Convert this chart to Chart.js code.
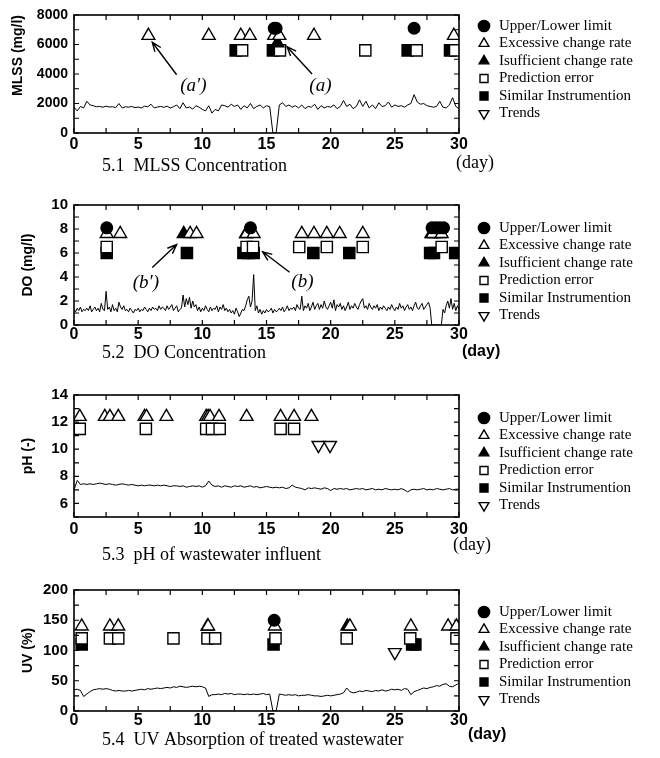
<!DOCTYPE html>
<html><head><meta charset="utf-8">
<script src="https://cdn.jsdelivr.net/npm/chart.js@4.4.1/dist/chart.umd.min.js"></script>
<style>
html,body{margin:0;padding:0;background:#fff;}
body{width:660px;height:758px;position:relative;overflow:hidden;}
.p{position:absolute;left:0;width:660px;}
canvas{display:block;}
</style></head>
<body>
<div class="p" style="top:0px"><canvas id="c1" width="660" height="190"></canvas></div>
<div class="p" style="top:190px"><canvas id="c2" width="660" height="190"></canvas></div>
<div class="p" style="top:380px"><canvas id="c3" width="660" height="190"></canvas></div>
<div class="p" style="top:570px"><canvas id="c4" width="660" height="188"></canvas></div>
<script>
// ---------------- DATA ----------------
const categoryNames = ["Upper/Lower limit","Excessive change rate","Isufficient change rate","Prediction error","Similar Instrumention","Trends"];
const xTickStep = 2.5, xLabelEvery = 5;

// time series (MLSS every 0.25 day)
const mlssStep = 0.25;
const mlssSeries = [
 1750,1500,1800,1700, 2150,1900,1850,1780, 1800,1750,1820,1760, 1780,1720,2000,1700,
 1780,1750,1800,1720, 1760,1700,1820,1780, 1950,1700,1760,1800, 1740,1820,1700,1780,
 1900,1650,2050,1700, 1760,1620,1850,1750, 1600,1500,1850,1350, 1600,1500,1900,1850,
 1750,1950,1800,1900, 1600,1850,1700,2000, 1650,1800,1900,1700, 1850,1780,0,0,
 1900,2050,1800,1900, 1750,1850,1700,1900, 1650,1800,1750,1950, 1600,1850,1700,1800,
 1750,1900,1650,1800, 2200,1800,1950,1650, 1800,2250,1800,2150, 1700,1900,1650,2050,
 1800,1850,2100,1750, 1900,1800,1850,1750, 1900,2000,2600,2100, 1950,2000,1850,1800,
 1750,1800,2150,1750, 1700,1900,2400,1800, 1650
];
// DO every 0.125 day
const doStep = 0.125;
const doSeries = [
 1.3,1.1,1.4,1.2,1.5,1.1,1.3,1.2, 1.4,1.2,1.6,1.1,1.3,1.5,1.2,1.4,
 1.1,1.8,1.3,1.2,2.8,1.3,1.5,1.1, 1.7,1.2,1.4,1.1,1.9,1.5,1.3,1.6,
 1.2,1.3,1.1,1.4,1.2,1.0,1.3,1.2, 1.4,1.1,1.3,1.2,1.5,1.3,1.1,1.4,
 1.2,1.5,1.3,1.4,1.2,1.6,1.3,1.5, 1.4,1.2,1.6,1.3,1.5,1.7,1.2,1.4,
 1.6,1.1,1.3,1.4,2.5,1.5,2.2,1.7, 2.3,1.4,2.0,1.5,1.7,1.2,1.5,1.1,
 1.4,1.2,1.6,1.3,1.1,1.5,1.2,1.4, 1.3,1.6,1.1,1.5,1.3,1.7,1.2,1.4,
 1.1,1.3,1.0,1.2,0.9,1.4,1.1,0.7, 1.0,1.3,1.2,1.6,2.1,2.4,1.5,2.0,
 4.2,1.2,1.6,1.0,1.3,0.9,1.2,1.0, 1.3,1.1,1.2,1.4,1.0,1.3,1.1,1.2,
 1.4,1.2,1.5,1.1,1.3,1.6,1.2,1.4, 1.3,1.5,1.2,1.7,1.4,1.3,2.4,1.2,
 1.6,1.4,1.8,1.2,1.5,1.9,1.3,1.6, 1.8,1.3,1.7,1.4,2.0,1.5,1.3,1.6,
 1.9,1.4,2.1,1.2,1.7,1.5,1.8,1.3, 1.6,1.2,1.5,1.9,1.3,1.6,1.4,1.8,
 1.5,1.3,1.7,2.0,2.2,1.4,1.6,1.3, 1.8,1.5,1.3,1.6,1.4,1.7,1.2,1.5,
 1.3,1.6,1.4,1.2,1.5,1.3,1.7,1.4, 1.2,1.5,1.3,1.8,1.4,1.6,1.2,1.5,
 1.7,1.3,1.5,1.2,1.6,1.9,1.4,1.3, 1.6,1.8,1.3,1.5,1.7,1.9,1.4,0,
 0,0,0,0,0,0,1.3,1.0, 1.6,2.0,1.4,2.2,1.3,1.8,1.2,1.6,
 1.3
];
// pH every 0.25 day
const phStep = 0.25;
const phSeries = [
 7.0,7.7,7.4,7.45, 7.4,7.45,7.4,7.45, 7.5,7.45,7.4,7.45, 7.4,7.35,7.4,7.45,
 7.4,7.35,7.4,7.35, 7.3,7.35,7.3,7.35, 7.35,7.3,7.35,7.3, 7.35,7.3,7.25,7.3,
 7.3,7.25,7.3,7.2, 7.25,7.3,7.25,7.3, 7.2,7.3,7.65,7.35, 7.25,7.3,7.2,7.3,
 7.25,7.2,7.3,7.25, 7.3,7.2,7.25,7.3, 7.2,7.25,7.15,7.2, 7.25,7.2,7.15,7.2,
 7.15,7.2,7.1,7.15, 7.35,7.2,7.15,7.1, 7.0,7.15,7.1,7.15, 7.1,7.05,7.15,7.1,
 6.95,7.1,7.05,7.1, 7.05,7.1,7.0,7.05, 7.1,7.05,7.1,7.0, 7.05,7.1,7.0,7.05,
 7.0,7.1,7.05,7.0, 7.05,7.0,7.1,7.0, 6.85,7.0,7.05,7.0, 7.05,7.1,7.0,7.05,
 7.0,7.1,7.05,7.0, 7.05,7.1,7.0,7.05, 7.05
];
// UV every 0.25 day
const uvStep = 0.25;
const uvSeries = [
 35,36,34,24, 28,32,35,36, 37,36,37,36, 34,33,34,33,
 33,34,33,34, 35,36,35,37, 36,37,38,37, 38,39,38,40,
 39,41,40,39, 40,41,40,41, 40,38,24,27, 27,28,27,29,
 28,29,27,28, 28,27,28,27, 28,27,28,29, 27,28,0,0,
 28,27,26,27, 26,27,25,26, 26,27,26,25, 25,24,25,26,
 25,26,27,28, 30,38,32,30, 31,33,32,34, 33,32,34,33,
 35,33,34,36, 35,36,34,37, 36,27,32,34, 36,38,37,39,
 40,42,41,44, 45,41,40,43, 46
];

// event markers: days of detection per category, plotted at a fixed level per category
const mlssLimit   = [15.6, 15.75, 26.5];
const mlssExcess  = [5.8, 10.5, 13.0, 13.7, 15.6, 16.0, 18.7, 29.6];
const mlssInsuff  = [15.85];
const mlssPred    = [13.1, 16.05, 22.7, 26.7, 29.7];
const mlssSimilar = [12.6, 15.5, 26.0, 29.3];
const mlssTrend   = [];
const mlssLevels  = [7100, 6600, 6100, 5600, 5600, 5000];

const doLimit   = [2.55, 13.75, 27.9, 28.2, 28.5, 28.8];
const doExcess  = [2.55, 3.6, 9.05, 9.55, 13.45, 14.0, 17.75, 18.7, 19.7, 20.7, 22.5, 27.95, 28.65];
const doInsuff  = [8.55, 13.4, 27.85, 28.15, 28.45];
const doPred    = [2.55, 13.45, 13.95, 17.55, 19.7, 22.5, 28.65];
const doSimilar = [2.55, 8.8, 13.2, 13.6, 14.0, 18.65, 21.45, 27.75, 28.05, 29.7];
const doTrend   = [];
const doLevels  = [8.1, 7.6, 7.6, 6.5, 6.0, 5.5];

const phLimit   = [];
const phExcess  = [0.45, 2.4, 2.8, 3.45, 5.5, 5.65, 7.2, 10.3, 10.45, 10.6, 11.3, 13.45, 16.1, 17.15, 18.5];
const phInsuff  = [];
const phPred    = [0.45, 5.6, 10.3, 10.75, 11.35, 16.1, 17.15];
const phSimilar = [];
const phTrend   = [19.05, 19.95];
const phLevels  = [13.2, 12.4, 12.4, 11.5, 11.5, 10.3];

const uvLimit   = [15.6];
const uvExcess  = [0.6, 2.8, 3.45, 10.45, 15.65, 21.5, 26.25, 29.15, 29.8];
const uvInsuff  = [10.4, 21.3];
const uvPred    = [0.6, 2.8, 3.45, 7.75, 10.4, 11.0, 15.7, 21.25, 26.2, 29.8];
const uvSimilar = [0.6, 15.55, 26.35, 26.6];
const uvTrend   = [25.0];
const uvLevels  = [150, 140, 140, 120, 110, 97];

// annotations (data coordinates)
const mlssNoteText = ["(a\u2032)", "(a)"];
const mlssNoteAt   = [[9.3, 3200], [19.2, 3200]];
const mlssArrowFrom = [[8.0, 3950], [18.55, 4000]];
const mlssArrowTo   = [[6.1, 6150], [16.6, 5850]];
const doNoteText = ["(b\u2032)", "(b)"];
const doNoteAt   = [[5.6, 3.5], [17.8, 3.6]];
const doArrowFrom = [[6.1, 4.8], [16.8, 4.4]];
const doArrowTo   = [[8.0, 6.7], [14.7, 6.1]];

// ---------------- STYLE ----------------
Chart.defaults.font.family = "'Liberation Sans', Arial, sans-serif";
Chart.defaults.color = '#000';
const SERIF = "'Liberation Serif', 'Times New Roman', serif";
const markerStyles = [
  {style:'circle',   r:5.8, fill:'#000', rot:0},
  {style:'triangle', r:7.4, fill:'#fff', rot:0},
  {style:'triangle', r:7.4, fill:'#000', rot:0},
  {style:'rect',     r:7.9, fill:'#fff', rot:0},
  {style:'rect',     r:7.9, fill:'#000', rot:0},
  {style:'triangle', r:7.4, fill:'#fff', rot:180}
];

const panels = [
  {id:'c1', series:mlssSeries, step:mlssStep, marks:[mlssLimit,mlssExcess,mlssInsuff,mlssPred,mlssSimilar,mlssTrend], levels:mlssLevels,
   yMin:0, yMax:8000, yMinor:1000, yMajor:2000, yFont:14, yTitle:'MLSS (mg/l)', titleAlign:'end', titlePad:10,
   padTop:15, xH:57, xPad:2, legendDy:1,
   caption:'5.1  MLSS Concentration', captionY:166, dayX:456, dayY:163, dayFont:'18px '+SERIF,
   notes: mlssNoteText.map((t,i)=>({text:t, at:mlssNoteAt[i], from:mlssArrowFrom[i], to:mlssArrowTo[i]}))},
  {id:'c2', series:doSeries, step:doStep, marks:[doLimit,doExcess,doInsuff,doPred,doSimilar,doTrend], levels:doLevels,
   yMin:0, yMax:10, yMinor:1, yMajor:2, yFont:15, yTitle:'DO (mg/l)', titleAlign:'center', titlePad:20,
   padTop:15, xH:55, xPad:0, legendDy:13,
   caption:'5.2  DO Concentration', captionY:163, dayX:462, dayY:162, dayFont:"bold 16px 'Liberation Sans', Arial, sans-serif",
   notes: doNoteText.map((t,i)=>({text:t, at:doNoteAt[i], from:doArrowFrom[i], to:doArrowTo[i]}))},
  {id:'c3', series:phSeries, step:phStep, marks:[phLimit,phExcess,phInsuff,phPred,phSimilar,phTrend], levels:phLevels,
   yMin:5, yMax:14, yMinor:1, yMajor:2, yFont:15, yTitle:'pH (-)', titleAlign:'center', titlePad:20,
   padTop:15, xH:53, xPad:3, legendDy:13,
   caption:'5.3  pH of wastewater influent', captionY:175, dayX:453, dayY:165, dayFont:'18px '+SERIF, notes:[]},
  {id:'c4', series:uvSeries, step:uvStep, marks:[uvLimit,uvExcess,uvInsuff,uvPred,uvSimilar,uvTrend], levels:uvLevels,
   yMin:0, yMax:200, yMinor:25, yMajor:50, yFont:15, yTitle:'UV (%)', titleAlign:'center', titlePad:20,
   padTop:20, xH:47, xPad:0, legendDy:12,
   caption:'5.4  UV Absorption of treated wastewater', captionY:170, dayX:468, dayY:165, dayFont:"bold 16px 'Liberation Sans', Arial, sans-serif", notes:[]}
];
const panelById = {};
panels.forEach(p => panelById[p.id] = p);

// ---------------- PLUGINS ----------------
const legendFix = {
  id: 'legendFix',
  afterInit(chart) {
    const lg = chart.legend;
    if (!lg) return;
    const fit = lg.fit.bind(lg);
    lg.fit = function () { fit(); this.width = 201; };
  },
  afterLayout(chart) {
    const lg = chart.legend;
    if (!lg) return;
    const p = panelById[chart.canvas.id];
    lg.left += 15; lg.right += 15;
    lg.top += p.legendDy; lg.bottom += p.legendDy;
  }
};

const frameTicks = {
  id: 'frameTicks',
  afterDatasetsDraw(chart) {
    const {ctx, chartArea: a, scales: {x, y}} = chart;
    ctx.save();
    ctx.strokeStyle = '#000';
    ctx.lineWidth = 1.2;
    ctx.beginPath();
    for (const t of x.ticks) {
      const px = x.getPixelForValue(t.value);
      ctx.moveTo(px, a.bottom); ctx.lineTo(px, a.bottom - 5);
      ctx.moveTo(px, a.top); ctx.lineTo(px, a.top + 5);
    }
    for (const t of y.ticks) {
      const py = y.getPixelForValue(t.value);
      ctx.moveTo(a.left, py); ctx.lineTo(a.left + 5, py);
      ctx.moveTo(a.right, py); ctx.lineTo(a.right - 5, py);
    }
    ctx.stroke();
    ctx.lineWidth = 1.6;
    ctx.strokeRect(a.left, a.top, a.right - a.left, a.bottom - a.top);
    ctx.restore();
  }
};

const decor = {
  id: 'decor',
  afterDraw(chart) {
    const p = panelById[chart.canvas.id];
    const ctx = chart.ctx;
    const {x, y} = chart.scales;
    ctx.save();
    ctx.fillStyle = '#000'; ctx.strokeStyle = '#000';
    ctx.textBaseline = 'middle'; ctx.textAlign = 'left';
    ctx.font = '18px ' + SERIF;
    ctx.fillText(p.caption, 102, p.captionY);
    ctx.font = p.dayFont;
    ctx.fillText('(day)', p.dayX, p.dayY);
    p.notes.forEach(n => {
      ctx.font = 'italic 19px ' + SERIF;
      ctx.textAlign = 'center';
      ctx.fillText(n.text, x.getPixelForValue(n.at[0]), y.getPixelForValue(n.at[1]));
      const fx = x.getPixelForValue(n.from[0]), fy = y.getPixelForValue(n.from[1]);
      const tx = x.getPixelForValue(n.to[0]), ty = y.getPixelForValue(n.to[1]);
      const ang = Math.atan2(ty - fy, tx - fx), h = 10, sp = 0.38;
      ctx.lineWidth = 1.4;
      ctx.beginPath();
      ctx.moveTo(fx, fy); ctx.lineTo(tx, ty);
      ctx.moveTo(tx - h * Math.cos(ang - sp), ty - h * Math.sin(ang - sp));
      ctx.lineTo(tx, ty);
      ctx.lineTo(tx - h * Math.cos(ang + sp), ty - h * Math.sin(ang + sp));
      ctx.stroke();
    });
    ctx.restore();
  }
};

// ---------------- CHARTS ----------------
function markerData(days, level) { return days.map(d => ({x: d, y: level})); }
function seriesData(vals, step) { return vals.map((v, i) => ({x: i * step, y: v})); }

panels.forEach(p => {
  const datasets = categoryNames.map((name, k) => ({
    label: name,
    data: markerData(p.marks[k], p.levels[k]),
    showLine: false,
    pointStyle: markerStyles[k].style,
    pointRadius: markerStyles[k].r,
    pointHoverRadius: markerStyles[k].r,
    pointRotation: markerStyles[k].rot,
    pointBackgroundColor: markerStyles[k].fill,
    pointBorderColor: '#000',
    pointBorderWidth: 1.4,
    backgroundColor: markerStyles[k].fill,
    borderColor: '#000',
    borderWidth: 1.4,
    order: k,
    inLegend: true
  }));
  datasets.push({
    label: 'series',
    data: seriesData(p.series, p.step),
    showLine: true,
    borderColor: '#000',
    borderWidth: 1,
    pointRadius: 0,
    pointHoverRadius: 0,
    tension: 0,
    order: 10,
    inLegend: false
  });

  new Chart(document.getElementById(p.id), {
    type: 'scatter',
    data: {datasets},
    options: {
      responsive: false,
      animation: false,
      devicePixelRatio: 1,
      events: [],
      layout: {padding: {top: p.padTop, left: 0, right: 0, bottom: 0}},
      scales: {
        x: {
          type: 'linear', min: 0, max: 30,
          afterFit: s => { s.height = p.xH; },
          grid: {display: false, drawTicks: false},
          border: {display: false},
          ticks: {
            stepSize: xTickStep, autoSkip: false, maxRotation: 0, padding: p.xPad, color: '#000',
            font: {size: 16, weight: 'bold'},
            callback: v => (v % xLabelEvery === 0 ? String(v) : '')
          }
        },
        y: {
          type: 'linear', min: p.yMin, max: p.yMax,
          afterFit: s => { s.width = 74; },
          grid: {display: false, drawTicks: false},
          border: {display: false},
          ticks: {
            stepSize: p.yMinor, autoSkip: false, padding: 6, color: '#000',
            font: {size: p.yFont, weight: 'bold'},
            callback: v => (v % p.yMajor === 0 ? String(v) : '')
          },
          title: {
            display: true, text: p.yTitle, align: p.titleAlign, color: '#000',
            padding: {top: p.titlePad, bottom: 0},
            font: {size: 14, weight: 'bold'}
          }
        }
      },
      plugins: {
        legend: {
          position: 'right', align: 'start', fullSize: false,
          labels: {
            usePointStyle: true, boxHeight: 8, boxWidth: 15, padding: 2.5, color: '#000',
            font: {family: SERIF, size: 15},
            filter: (item, data) => data.datasets[item.datasetIndex].inLegend
          }
        },
        tooltip: {enabled: false}
      }
    },
    plugins: [legendFix, frameTicks, decor]
  });
});
</script>
</body></html>
